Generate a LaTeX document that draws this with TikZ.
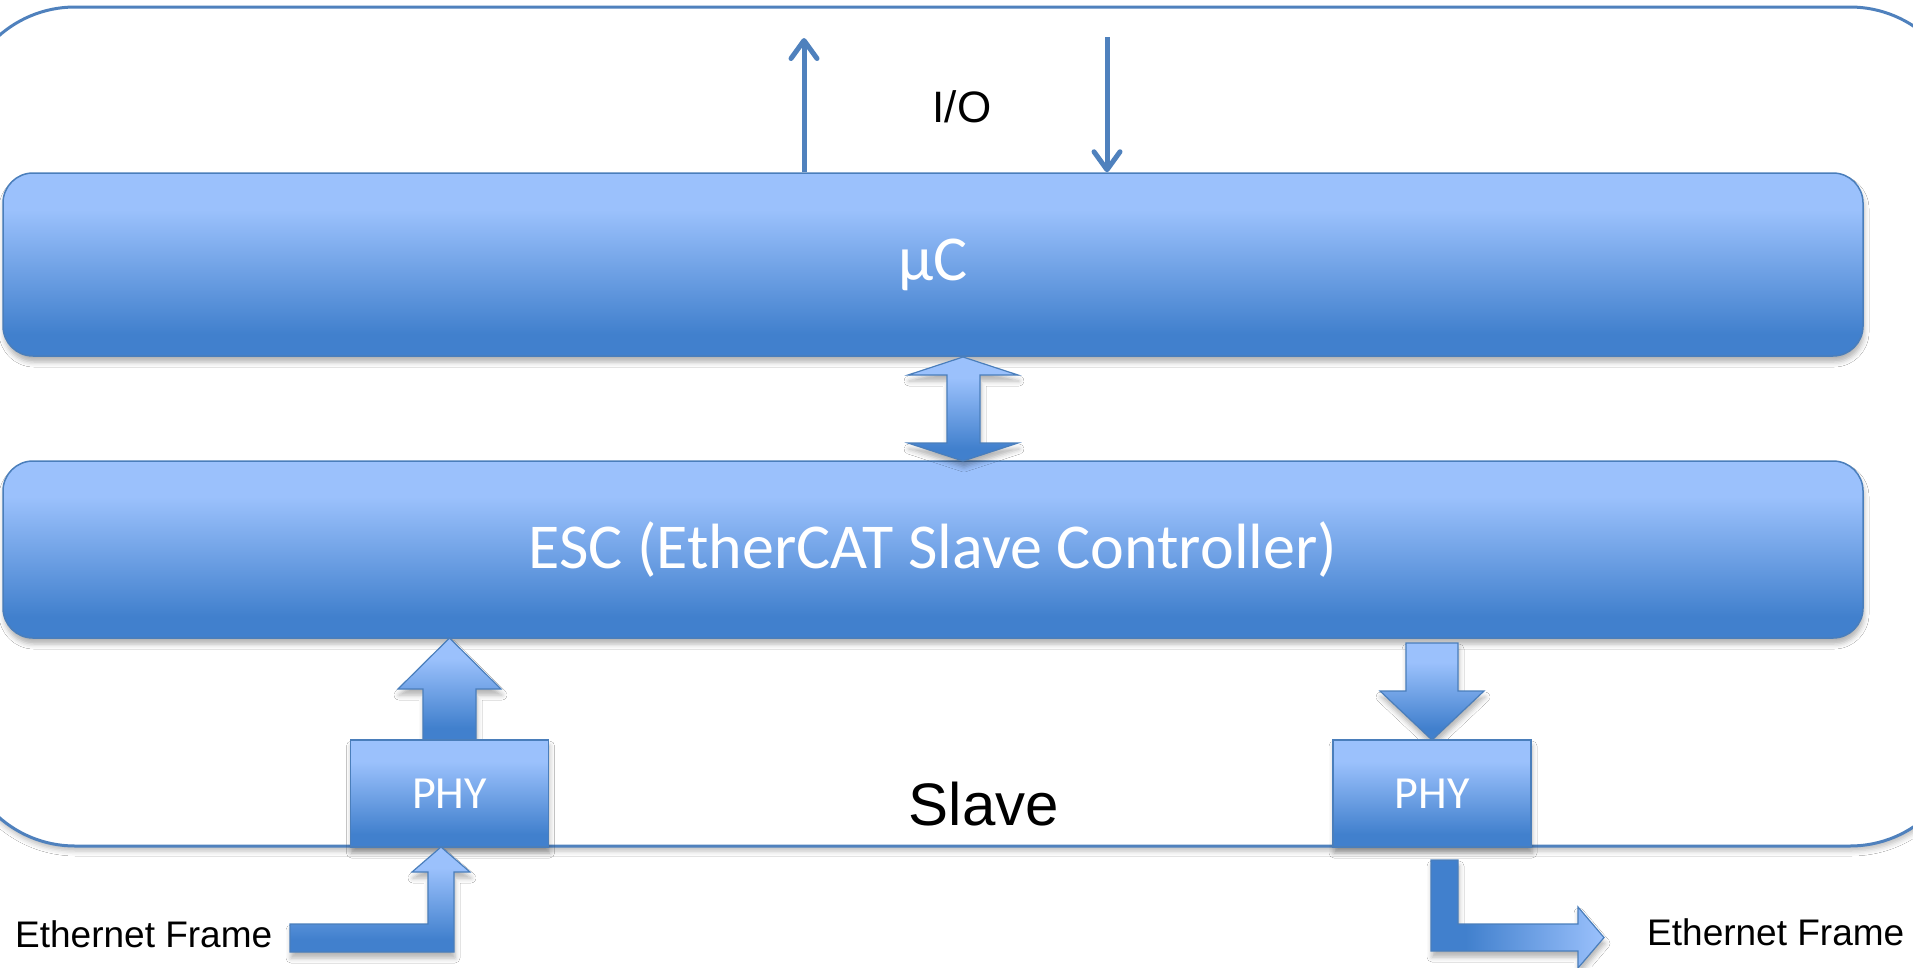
\documentclass[tikz,border=0pt]{standalone}
\usepackage{fontspec}
\setmainfont{Liberation Sans}
\newfontfamily\calib{Carlito}
\usetikzlibrary{arrows.meta,shadows.blur}
\definecolor{clight}{HTML}{9BC1FC}
\definecolor{cdark}{HTML}{4180CD}
\definecolor{cline}{HTML}{4A7EBB}
\definecolor{cio}{HTML}{4F81BD}
\pgfdeclareverticalshading{boxshade}{100bp}{color(0bp)=(cdark); color(31bp)=(cdark); color(65bp)=(clight); color(100bp)=(clight)}
\pgfdeclarehorizontalshading{hshade}{100bp}{color(0bp)=(cdark); color(35bp)=(cdark); color(75bp)=(clight); color(100bp)=(clight)}
\tikzset{
  softshadow/.style={blur shadow={shadow xshift=1pt, shadow yshift=-6pt, shadow blur radius=5pt, shadow opacity=30}},
  box/.style={draw=cline, line width=1.5pt, shade, shading=boxshade, rounded corners=30pt,
    softshadow, text=white, font=\calib\fontsize{64}{70}\selectfont, inner sep=0pt},
  phybox/.style={draw=cline, line width=1.5pt, shade, shading=boxshade,
    softshadow, text=white, font=\calib\fontsize{46}{50}\selectfont, inner sep=0pt},
  blockarrow/.style={draw=cline, line width=1.2pt, shade, shading=boxshade, softshadow, line join=miter},
  harrow/.style={draw=cline, line width=1.2pt, shade, shading=hshade, softshadow, line join=miter},
  ioarrow/.style={draw=cio, line width=5pt, -{Straight Barb[length=18pt,width=26pt,round]}},
  outerbox/.style={draw=cio, line width=3pt, fill=white, rounded corners=115pt,
    blur shadow={shadow xshift=1pt, shadow yshift=-5pt, shadow blur radius=5pt, shadow opacity=25}},
  label/.style={inner sep=0pt, text=black},
}
\begin{document}
\begin{tikzpicture}[x=1pt,y=-1pt]
\useasboundingbox (0,0) rectangle (1913,967);
\clip (0,0) rectangle (1913,967);
\fill[white] (0,0) rectangle (1913,967);
% outer slave frame
\draw[outerbox] (-40,7) rectangle (1965,846);
% boxes
\node[box, minimum width=1860pt, minimum height=183pt] (uc) at (933,264.5) {μC};
\node[box, minimum width=1860pt, minimum height=177pt] (esc) at (933,549.5) {ESC (EtherCAT Slave Controller)};
% I/O arrows
\coordinate (ioup) at (804,38);
\coordinate (iodn) at (1107,37);
\draw[ioarrow] (uc.north -| ioup) -- (ioup);
\draw[ioarrow] (iodn) -- (uc.north -| iodn);
\node[label, anchor=base, font=\fontsize{44}{50}\selectfont] (io) at (962,122) {I/O};
% double arrow between uC and ESC
\draw[blockarrow] (963,357) -- (1018,375) -- (980,375) -- (980,443) -- (1018,443) -- (963,461)
   -- (908,443) -- (947,443) -- (947,375) -- (908,375) -- cycle;
% left up arrow PHY -> ESC
\draw[blockarrow] (449.5,638) -- (501,689) -- (476,689) -- (476,740) -- (423,740) -- (423,689) -- (398,689) -- cycle;
% right down arrow ESC -> PHY
\draw[blockarrow] (1406,643) -- (1458,643) -- (1458,691) -- (1484,691) -- (1432,740) -- (1380,691) -- (1406,691) -- cycle;
% PHY boxes
\node[phybox, minimum width=198pt, minimum height=107pt] (phyl) at (449.5,793.5) {PHY};
\node[phybox, minimum width=198pt, minimum height=107pt] (phyr) at (1432,793.5) {PHY};
% bent arrows
\draw[blockarrow] (290,924) -- (428,924) -- (428,872) -- (412,872) -- (441,847) -- (470,872)
   -- (454,872) -- (454,952) -- (290,952) -- cycle;
\draw[harrow] (1431,860) -- (1458,860) -- (1458,924) -- (1578,924) -- (1578,907) -- (1604,937.5)
   -- (1578,968) -- (1578,951) -- (1431,951) -- cycle;
% labels
\node[label, anchor=base, font=\fontsize{60}{66}\selectfont] (slave) at (984,825) {Slave};
\node[label, anchor=base west, font=\fontsize{37}{42}\selectfont] (efl) at (15,947) {Ethernet Frame};
\node[label, anchor=base west, font=\fontsize{37}{42}\selectfont] (efr) at (1647,945) {Ethernet Frame};
\end{tikzpicture}
\end{document}
